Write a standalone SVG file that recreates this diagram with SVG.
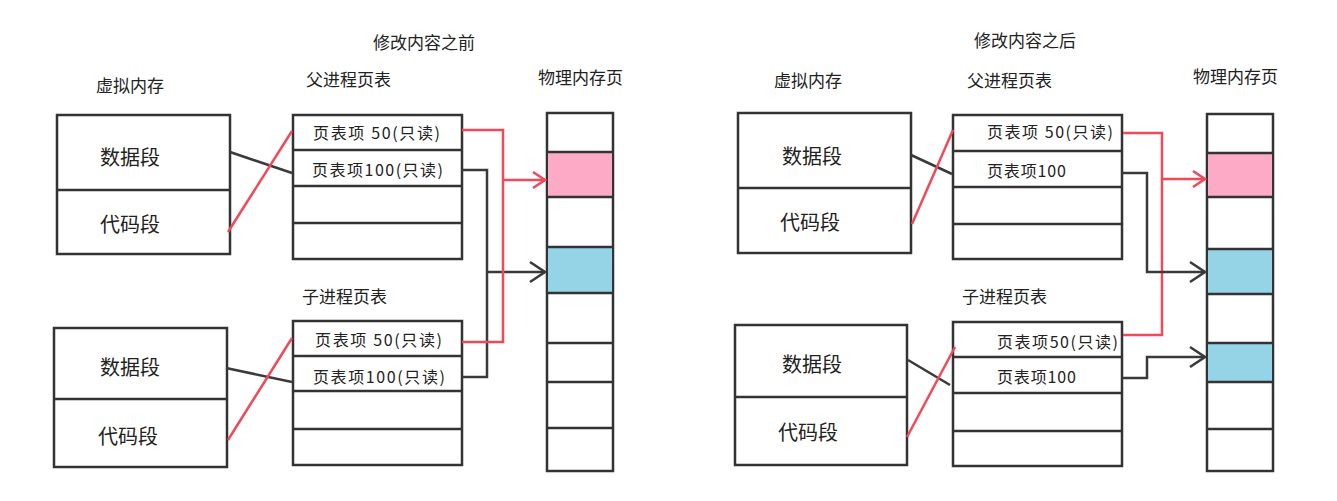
<svg xmlns="http://www.w3.org/2000/svg" width="1337" height="501" viewBox="0 0 1337 501">
<style>
text{font-family:"Noto Sans CJK SC","Noto Sans",sans-serif;fill:#222}
.hd{font-size:17px}
.seg{font-size:20px;text-anchor:middle}
.pt{font-size:16px}
.box{fill:#fff;stroke:#333;stroke-width:2.5}
.ln{stroke:#333;stroke-width:2.5;fill:none}
.pink{fill:#fcaac6}
.blue{fill:#95d4e6}
.cb{stroke:#3a3a3a;stroke-width:2.5;fill:none}
.cr{stroke:#f04a5a;stroke-width:2.5;fill:none}
</style>
<defs>
<marker id="ab" viewBox="-17 -12 19 24" refX="0" refY="0" markerWidth="19" markerHeight="24" markerUnits="userSpaceOnUse" orient="auto">
<path d="M-15,-10 L0,0 L-15,10" fill="none" stroke="#3a3a3a" stroke-width="2.5"/>
</marker>
<marker id="ar" viewBox="-17 -12 19 24" refX="0" refY="0" markerWidth="19" markerHeight="24" markerUnits="userSpaceOnUse" orient="auto">
<path d="M-12,-8 L0,0 L-12,8" fill="none" stroke="#f04a5a" stroke-width="2.5"/>
</marker>
</defs>
<rect width="1337" height="501" fill="#fff"/>

<!-- LEFT: before -->
<g id="title-left"><text class="hd" x="373" y="49">修改内容之前</text></g>
<g id="label-vm-left"><text class="hd" x="96" y="92">虚拟内存</text></g>
<g id="label-ppt-left"><text class="hd" x="306" y="86">父进程页表</text></g>
<g id="label-phys-left"><text class="hd" x="538" y="84">物理内存页</text></g>
<g id="label-cpt-left"><text class="hd" x="302" y="303">子进程页表</text></g>

<g id="vm-parent-left">
<rect class="box" x="57" y="115" width="173" height="139"/>
<line class="ln" x1="57" y1="190" x2="230" y2="190"/>
<text class="seg" x="130" y="165">数据段</text>
<text class="seg" x="130" y="232">代码段</text>
</g>
<g id="vm-child-left">
<rect class="box" x="54" y="328" width="173" height="139"/>
<line class="ln" x1="54" y1="399" x2="227" y2="399"/>
<text class="seg" x="130" y="375">数据段</text>
<text class="seg" x="128" y="444">代码段</text>
</g>
<g id="ppt-left">
<rect class="box" x="293" y="115" width="169" height="144"/>
<line class="ln" x1="293" y1="150" x2="462" y2="150"/>
<line class="ln" x1="293" y1="186" x2="462" y2="186"/>
<line class="ln" x1="293" y1="223" x2="462" y2="223"/>
<text class="pt" x="313" y="139" textLength="127">页表项 50(只读)</text>
<text class="pt" x="312" y="176" textLength="131">页表项100(只读)</text>
</g>
<g id="cpt-left">
<rect class="box" x="293" y="321" width="169" height="144"/>
<line class="ln" x1="293" y1="356" x2="462" y2="356"/>
<line class="ln" x1="293" y1="391" x2="462" y2="391"/>
<line class="ln" x1="293" y1="429" x2="462" y2="429"/>
<text class="pt" x="315" y="346" textLength="127">页表项 50(只读)</text>
<text class="pt" x="313" y="383" textLength="132">页表项100(只读)</text>
</g>
<g id="phys-left">
<rect class="box" x="547" y="113" width="66" height="358"/>
<rect class="pink" x="548" y="152" width="64" height="45"/>
<rect class="blue" x="548" y="247" width="64" height="46"/>
<line class="ln" x1="547" y1="152" x2="613" y2="152"/>
<line class="ln" x1="547" y1="197" x2="613" y2="197"/>
<line class="ln" x1="547" y1="247" x2="613" y2="247"/>
<line class="ln" x1="547" y1="293" x2="613" y2="293"/>
<line class="ln" x1="547" y1="343" x2="613" y2="343"/>
<line class="ln" x1="547" y1="382" x2="613" y2="382"/>
<line class="ln" x1="547" y1="428" x2="613" y2="428"/>
</g>

<!-- RIGHT: after -->
<g id="title-right"><text class="hd" x="974" y="47">修改内容之后</text></g>
<g id="label-vm-right"><text class="hd" x="774" y="87">虚拟内存</text></g>
<g id="label-ppt-right"><text class="hd" x="967" y="87">父进程页表</text></g>
<g id="label-phys-right"><text class="hd" x="1193" y="83">物理内存页</text></g>
<g id="label-cpt-right"><text class="hd" x="962" y="303">子进程页表</text></g>

<g id="vm-parent-right">
<rect class="box" x="738" y="113" width="173" height="140"/>
<line class="ln" x1="738" y1="188" x2="911" y2="188"/>
<text class="seg" x="812" y="164">数据段</text>
<text class="seg" x="810" y="230">代码段</text>
</g>
<g id="vm-child-right">
<rect class="box" x="735" y="325" width="172" height="140"/>
<line class="ln" x1="735" y1="397" x2="907" y2="397"/>
<text class="seg" x="812" y="372">数据段</text>
<text class="seg" x="808" y="440">代码段</text>
</g>
<g id="ppt-right">
<rect class="box" x="953" y="115" width="169" height="144"/>
<line class="ln" x1="953" y1="151" x2="1122" y2="151"/>
<line class="ln" x1="953" y1="187" x2="1122" y2="187"/>
<line class="ln" x1="953" y1="224" x2="1122" y2="224"/>
<text class="pt" x="987" y="138" textLength="126">页表项 50(只读)</text>
<text class="pt" x="987" y="177" textLength="79">页表项100</text>
</g>
<g id="cpt-right">
<rect class="box" x="953" y="322" width="169" height="144"/>
<line class="ln" x1="953" y1="357" x2="1122" y2="357"/>
<line class="ln" x1="953" y1="393" x2="1122" y2="393"/>
<line class="ln" x1="953" y1="431" x2="1122" y2="431"/>
<text class="pt" x="997" y="348" textLength="121">页表项50(只读)</text>
<text class="pt" x="997" y="383" textLength="79">页表项100</text>
</g>
<g id="phys-right">
<rect class="box" x="1207" y="114" width="66" height="357"/>
<rect class="pink" x="1208" y="153" width="64" height="44"/>
<rect class="blue" x="1208" y="249" width="64" height="45"/>
<rect class="blue" x="1208" y="343" width="64" height="39"/>
<line class="ln" x1="1207" y1="153" x2="1273" y2="153"/>
<line class="ln" x1="1207" y1="197" x2="1273" y2="197"/>
<line class="ln" x1="1207" y1="249" x2="1273" y2="249"/>
<line class="ln" x1="1207" y1="294" x2="1273" y2="294"/>
<line class="ln" x1="1207" y1="343" x2="1273" y2="343"/>
<line class="ln" x1="1207" y1="382" x2="1273" y2="382"/>
<line class="ln" x1="1207" y1="429" x2="1273" y2="429"/>
</g>

<g id="connectors">
<line class="cb" x1="230" y1="152" x2="292" y2="173"/>
<line class="cr" x1="228" y1="232" x2="292" y2="131"/>
<line class="cb" x1="226" y1="368" x2="292" y2="382"/>
<line class="cr" x1="228" y1="440" x2="292" y2="338"/>
<path class="cb" d="M462,170 H487 V377 H462"/>
<path class="cb" d="M487,272 H545" marker-end="url(#ab)"/>
<path class="cr" d="M462,130 H503 V342 H462"/>
<path class="cr" d="M503,180 H545" marker-end="url(#ar)"/>

<line class="cb" x1="911" y1="155" x2="952" y2="174"/>
<line class="cr" x1="912" y1="224" x2="953" y2="130"/>
<line class="cb" x1="908" y1="360" x2="950" y2="385"/>
<line class="cr" x1="907" y1="437" x2="955" y2="347"/>
<path class="cr" d="M1123,133 H1162 V335 H1123"/>
<path class="cr" d="M1162,179 H1205" marker-end="url(#ar)"/>
<path class="cb" d="M1122,173 H1147 V272 H1205" marker-end="url(#ab)"/>
<path class="cb" d="M1122,378 H1147 V357 H1205" marker-end="url(#ab)"/>
</g>
</svg>
